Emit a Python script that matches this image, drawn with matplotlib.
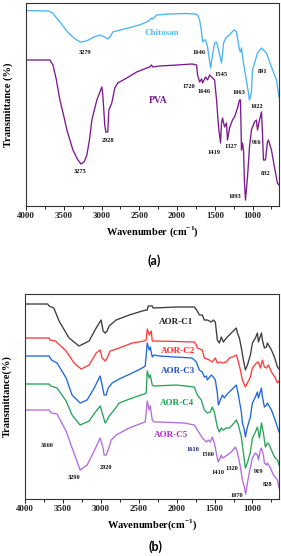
"""FTIR spectra: (a) chitosan and PVA, (b) AOR-C1..C5 composites"""
import matplotlib
matplotlib.use("Agg")
import matplotlib.pyplot as plt
from matplotlib.ticker import MultipleLocator

plt.rcParams["font.family"] = ["Liberation Serif", "DejaVu Serif"]
plt.rcParams["font.weight"] = "bold"
plt.rcParams["mathtext.fontset"] = "custom"
plt.rcParams["mathtext.rm"] = "Liberation Serif"
plt.rcParams["mathtext.bf"] = "Liberation Serif:bold"

# ───── Data: panel (a) ─────────────────────────────────────────────────────
chitosan_wn = [4000, 3700, 3650, 3550, 3450, 3350, 3279, 3200, 3100, 3022,
               2960, 2917, 2880, 2851, 2700, 2500, 2400, 2362, 2340, 2320,
               2270, 2100, 1900, 1760, 1728, 1701, 1675, 1662, 1640, 1622,
               1596, 1556, 1520, 1503, 1477, 1450, 1411, 1384, 1345, 1305,
               1260, 1239, 1213, 1173, 1160, 1147, 1120, 1067, 1041, 1015,
               1001, 962, 935, 882, 816, 750, 684, 650]
chitosan_t = [195.5, 195, 193, 184, 174, 167, 164, 165, 169, 171,
              169, 167, 170, 174, 177, 181, 184, 186, 188, 187,
              191, 192, 192.5, 192, 191, 186, 174, 164, 166, 166,
              159, 138, 156, 163, 164, 156, 143, 163, 169, 171,
              175, 176, 174, 156, 154, 158, 143, 119, 106, 114,
              136, 146, 153, 158, 153, 139, 126, 109]

pva_wn = [4000, 3683, 3643, 3600, 3551, 3500, 3458, 3379, 3320, 3273,
          3230, 3194, 3160, 3128, 3062,
          2996, 2983, 2957, 2943, 2917, 2903, 2864, 2824, 2785, 2666,
          2534, 2402, 2362, 2340, 2320, 2230, 2000, 1800, 1741, 1728,
          1701, 1675, 1662, 1622, 1596, 1569, 1543, 1503, 1477, 1450,
          1424, 1411, 1398, 1371, 1345, 1332, 1305, 1266, 1239, 1199,
          1173, 1160, 1147, 1133, 1120, 1107, 1094, 1067, 1041, 1015,
          975, 949, 935, 909, 882, 869, 856, 830, 803, 790,
          750, 711, 671, 650]
pva_t = [146, 146, 141, 127, 106, 90, 76, 56, 47, 42,
         44, 51, 66, 86, 106,
         119, 111, 81, 74, 74, 96, 103, 118, 123, 128,
         134, 138, 139, 141, 139, 140, 141, 142, 141, 131,
         124, 127, 123, 129, 126, 131, 129, 126, 106, 79,
         63, 83, 88, 79, 83, 66, 78, 86, 89, 98,
         106, 106, 56, 63, 56, 23, 6, 29, 59, 76,
         84, 86, 76, 86, 94, 73, 46, 46, 64, 66,
         56, 39, 23, 21]

# band labels: (text, wavenumber, y)
labels_a = [("3279", 3221, 154), ("1646", 1715, 154), ("1545", 1411, 132),
            ("891", 869, 135), ("1022", 949, 100), ("1720", 1847, 120),
            ("1646", 1649, 115), ("1063", 1186, 114), ("2928", 2917, 65),
            ("3275", 3287, 34), ("1419", 1517, 53), ("1327", 1292, 59),
            ("916", 949, 63), ("832", 830, 32), ("1093", 1239, 9)]

# ───── Data: panel (b) ─────────────────────────────────────────────────────
c1_wn = [4000, 3700, 3683, 3620, 3551, 3419, 3287, 3155, 3062, 2996,
         2970, 2943, 2917, 2890, 2798, 2626, 2454, 2400, 2388, 2375,
         2322, 2310, 2000, 1767, 1728, 1701, 1662, 1635, 1596, 1543,
         1516, 1490, 1464, 1437, 1411, 1384, 1345, 1305, 1266, 1213,
         1199, 1173, 1147, 1120, 1094, 1067, 1028, 1001, 962, 935,
         922, 882, 869, 843, 816, 803, 750, 711, 671, 650]
c1_t = [195, 195, 193, 191, 178, 161, 153, 158, 171, 179,
        168, 166, 168, 173, 179, 184, 188, 189, 189, 193,
        193, 191, 192, 192, 188, 184, 184, 179, 179, 177,
        179, 177, 159, 156, 162, 157, 161, 164, 167, 171,
        166, 161, 151, 139, 129, 134, 144, 156, 161, 166,
        157, 166, 159, 151, 152, 156, 149, 142, 132, 130]

c2_wn = [4000, 3683, 3670, 3600, 3458, 3353, 3260, 3155, 3062, 3009,
         2983, 2943, 2917, 2877, 2758, 2587, 2428, 2402, 2388, 2362,
         2335, 2322, 2300, 2000, 1767, 1741, 1728, 1662, 1635, 1569,
         1530, 1490, 1464, 1424, 1398, 1345, 1305, 1266, 1213, 1186,
         1160, 1133, 1094, 1067, 1028, 1001, 949, 922, 896, 869,
         843, 816, 790, 750, 698, 671, 650]
c2_t = [161, 161, 159, 158, 148, 136, 130, 134, 146, 149,
        141, 138, 141, 148, 151, 156, 158, 159, 170, 164,
        168, 158, 158, 157.5, 157, 154, 151, 149, 141, 139,
        137, 141, 136, 137, 136, 137, 141, 142, 144, 137,
        129, 119, 112, 116, 122, 131, 136, 137, 131, 139,
        132, 131, 134, 127, 121, 116, 118]

c3_wn = [4000, 3683, 3650, 3577, 3458, 3379, 3273, 3181, 3088, 3009,
         2983, 2957, 2930, 2903, 2851, 2758, 2587, 2454, 2415, 2388,
         2362, 2348, 2322, 2300, 2230, 1800, 1767, 1741, 1701, 1662,
         1635, 1609, 1596, 1543, 1516, 1490, 1464, 1450, 1424, 1398,
         1371, 1345, 1305, 1253, 1213, 1186, 1147, 1133, 1107, 1094,
         1067, 1028, 1001, 962, 935, 922, 882, 869, 843, 816,
         803, 750, 711, 671, 650]
c3_t = [143, 143, 139, 136, 121, 104, 96, 99, 111, 123,
        114, 104, 104, 111, 116, 120, 126, 131, 133, 156,
        149, 152, 142, 144, 143, 141, 139, 137, 129, 127,
        122, 123, 119, 124, 122, 119, 106, 94, 99, 104,
        101, 104, 107, 111, 114, 104, 87, 76, 69, 62,
        72, 82, 96, 102, 107, 101, 111, 102, 92, 94,
        96, 89, 81, 72, 67]

c4_wn = [4000, 3683, 3660, 3577, 3458, 3379, 3273, 3155, 3062, 3009,
         2970, 2943, 2917, 2890, 2824, 2758, 2587, 2428, 2402, 2388,
         2362, 2348, 2322, 2300, 2000, 1767, 1728, 1675, 1635, 1596,
         1556, 1530, 1503, 1464, 1437, 1411, 1384, 1345, 1305, 1266,
         1213, 1186, 1147, 1120, 1094, 1067, 1028, 1001, 962, 935,
         909, 882, 856, 830, 803, 777, 750, 711, 671, 650]
c4_t = [115, 115, 113, 111, 98, 84, 74, 78, 88, 93,
        83, 76, 79, 83, 89, 96, 101, 105, 106, 128,
        121, 124, 114, 113, 114, 112, 104, 99, 89, 86,
        87, 92, 87, 72, 67, 71, 69, 71, 71, 74,
        79, 74, 62, 46, 31, 36, 47, 61, 67, 72,
        61, 76, 66, 52, 56, 54, 49, 42, 39, 34]

c5_wn = [4000, 3683, 3650, 3577, 3458, 3379, 3273, 3181, 3088, 3009,
         2970, 2957, 2930, 2903, 2864, 2798, 2626, 2454, 2415, 2388,
         2362, 2348, 2322, 2300, 2230, 1900, 1767, 1701, 1662, 1609,
         1583, 1556, 1530, 1503, 1464, 1450, 1411, 1398, 1371, 1332,
         1279, 1226, 1199, 1160, 1133, 1107, 1090, 1067, 1041, 1001,
         962, 935, 922, 896, 882, 856, 843, 816, 803, 763,
         724, 671, 650]
c5_t = [89, 89, 86, 85, 68, 51, 29, 34, 48, 61,
        51, 44, 44, 49, 59, 64, 71, 76, 77, 98,
        89, 93, 79, 77, 77, 76, 74, 66, 61, 57,
        59, 57, 62, 56, 41, 37, 44, 41, 42, 44,
        47, 52, 47, 32, 19, 12, 5, 16, 27, 41,
        46, 44, 39, 49, 51, 44, 36, 34, 36, 31,
        24, 19, 11]

series_b = [
    ("AOR-C1", c1_wn, c1_t, "#3c3c3c", "#1e1e1e", 2007, 177),
    ("AOR-C2", c2_wn, c2_t, "#ff3b3b", "#ff2a2a", 1980, 148),
    ("AOR-C3", c3_wn, c3_t, "#1f66e0", "#1a4fc0", 1980, 128),
    ("AOR-C4", c4_wn, c4_t, "#27a35a", "#1f9a4c", 1993, 96),
    ("AOR-C5", c5_wn, c5_t, "#b36be0", "#b030c0", 2073, 64),
]

labels_b = [("3660", 3709, 54), ("3290", 3352, 22), ("2920", 2930, 32),
            ("1610", 1781, 50), ("1560", 1583, 45), ("1410", 1450, 27),
            ("1320", 1266, 31), ("919", 922, 28), ("828", 803, 15),
            ("1070", 1213, 4)]


def style_axis(ax, ylim, ylabel, xlabel):
    ax.set_xlim(4000, 650)
    ax.set_ylim(*ylim)
    ax.set_yticks([])
    ax.xaxis.set_major_locator(MultipleLocator(500))
    ax.xaxis.set_minor_locator(MultipleLocator(250))
    ax.tick_params(axis="x", which="major", direction="out", length=3,
                   width=0.7, labelsize=6.5, pad=1.5, colors="#222222")
    ax.tick_params(axis="x", which="minor", direction="out", length=1.8,
                   width=0.6)
    for lab in ax.get_xticklabels():
        lab.set_fontweight("bold")
    for sp in ax.spines.values():
        sp.set_linewidth(0.8)
        sp.set_color("#333333")
    ax.set_xlabel(xlabel, fontsize=7.5, fontweight="bold", labelpad=3)
    ax.set_ylabel(ylabel, fontsize=7.5, fontweight="bold")
    ax.yaxis.set_label_coords(-0.05, 0.5)


fig = plt.figure(figsize=(2.81, 5.56), dpi=100)

# ───── Panel (a) ───────────────────────────────────────────────────────────
ax1 = fig.add_axes([0.0925, 0.6295, 0.9004, 0.3651])
ax1.plot(chitosan_wn, chitosan_t, color="#4ab4f5", lw=0.95)
ax1.plot(pva_wn, pva_t, color="#7b1a8e", lw=0.95)
ax1.text(2203, 173, "Chitosan", color="#55bbf0", fontsize=6.5,
         fontweight="bold", ha="center", va="center")
ax1.text(2256, 106, "PVA", color="#7b1a8e", fontsize=7,
         fontweight="bold", ha="center", va="center")
for txt, wn, y in labels_a:
    ax1.text(wn, y, txt, fontsize=4.6, fontweight="bold", ha="center",
             va="center", color="#111111")
style_axis(ax1, (0, 203), "Transmittance (%)",
           r"Wavenumber (cm$^{\mathbf{-1}}$)")

# ───── Panel (b) ───────────────────────────────────────────────────────────
ax2 = fig.add_axes([0.089, 0.1025, 0.904, 0.3687])
for name, wn, t, lc, tc, lx, ly in series_b:
    ax2.plot(wn, t, color=lc, lw=0.95)
    ax2.text(lx, ly, name, color=tc, fontsize=6.5, fontweight="bold",
             ha="center", va="center")
for txt, wn, y in labels_b:
    col = "#1a1a70" if txt == "1610" else "#111111"
    ax2.text(wn, y, txt, fontsize=4.6, fontweight="bold", ha="center",
             va="center", color=col)
style_axis(ax2, (0, 205), "Transmittance(%)",
           r"Wavenumber(cm$^{\mathbf{-1}}$)")

fig.text(0.548, 0.532, "(a)", fontsize=9, fontweight="bold",
         family=["Lato", "DejaVu Sans"], ha="center", va="center")
fig.text(0.552, 0.016, "(b)", fontsize=9, fontweight="bold",
         family=["Lato", "DejaVu Sans"], ha="center", va="center")

fig.savefig("out.png", dpi=100)
